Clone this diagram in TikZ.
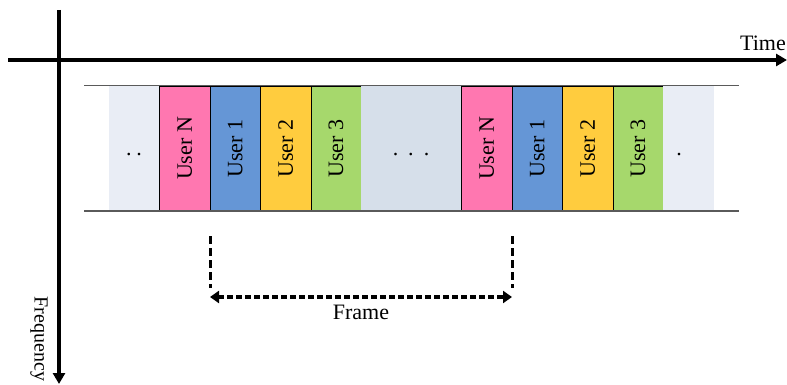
\documentclass[tikz,border=0pt]{standalone}
\usepackage{fontspec}
\setmainfont{Liberation Serif}
\usetikzlibrary{arrows.meta}
\definecolor{cpink}{RGB}{255,119,176}
\definecolor{cblue}{RGB}{101,150,214}
\definecolor{cyellow}{RGB}{255,204,62}
\definecolor{cgreen}{RGB}{166,216,108}
\definecolor{clight}{RGB}{233,237,245}
\definecolor{cmid}{RGB}{214,223,234}
\definecolor{crule}{RGB}{90,90,90}
\begin{document}
\begin{tikzpicture}[x=1pt,y=-1pt,
  every node/.style={font=\fontsize{22}{26}\selectfont, inner sep=0pt, outer sep=0pt},
  axis/.style={line width=3.5pt, -{Triangle[length=11pt,width=12pt]}},
  slot/.style={draw=black, line width=0.8pt, minimum height=125pt},
  emptyslot/.style={draw=none, minimum height=125pt},
  rule/.style={draw=crule, line width=1.5pt},
  guide/.style={line width=3pt, dash pattern=on 8pt off 4pt},
  framearrow/.style={line width=3.5pt, dash pattern=on 6pt off 3pt, {Triangle[length=9pt,width=12pt]}-{Triangle[length=9pt,width=12pt]}},
  dotsnode/.style={anchor=base}
]
\useasboundingbox (0,0) rectangle (787,385);

% axes
\coordinate (xa) at (8,60);
\coordinate (xb) at (787,60);
\coordinate (ya) at (59,10);
\coordinate (yb) at (59,384);
\draw[axis] (xa) -- (xb);
\draw[axis] (ya) -- (yb);
\node (time) at (763,43) {Time};
\node[rotate=-90, font=\fontsize{20}{24}\selectfont] (freq) at (39,339) {Frequency};

% slots
\node[emptyslot, fill=clight, minimum width=50.5pt] (s1) at (134.25,148.5) {};
\node[slot, fill=cpink, minimum width=50.5pt] (s2) at (184.75,148.5) {\rotatebox{90}{User N}};
\node[slot, fill=cblue, minimum width=50.5pt] (s3) at (235.25,148.5) {\rotatebox{90}{User 1}};
\node[slot, fill=cyellow, minimum width=50.5pt] (s4) at (285.75,148.5) {\rotatebox{90}{User 2}};
\node[slot, fill=cgreen, minimum width=50pt] (s5) at (336,148.5) {\rotatebox{90}{User 3}};
\node[emptyslot, fill=cmid, minimum width=100.5pt] (s6) at (411.25,148.5) {};
\node[slot, fill=cpink, minimum width=50.5pt] (s7) at (486.75,148.5) {\rotatebox{90}{User N}};
\node[slot, fill=cblue, minimum width=50.5pt] (s8) at (537.25,148.5) {\rotatebox{90}{User 1}};
\node[slot, fill=cyellow, minimum width=50.5pt] (s9) at (587.75,148.5) {\rotatebox{90}{User 2}};
\node[slot, fill=cgreen, minimum width=50pt] (s10) at (638,148.5) {\rotatebox{90}{User 3}};
\node[emptyslot, fill=clight, minimum width=51pt] (s11) at (688.5,148.5) {};

% dots
\node[dotsnode] (d1) at (134,155.5) {.\hspace{5pt}.};
\node[dotsnode] (d2) at (411,155.5) {.\hspace{10pt}.\hspace{10pt}.};
\node[dotsnode] (d3) at (679,155.5) {.};

% top and bottom rules
\coordinate (ta) at (84,85.5);
\coordinate (tb) at (739,85.5);
\coordinate (ba) at (84,211);
\coordinate (bb) at (739,211);
\draw[rule] (ta) -- (tb);
\draw[rule] (ba) -- (bb);

% frame marker
\coordinate (g1t) at (210,236);
\coordinate (g1b) at (210,288);
\coordinate (g2t) at (512,236);
\coordinate (g2b) at (512,288);
\draw[guide] (g1t) -- (g1b);
\draw[guide] (g2t) -- (g2b);
\coordinate (fa) at (210,297);
\coordinate (fb) at (512,297);
\draw[framearrow] (fa) -- (fb);
\node (frame) at (361,312) {Frame};
\end{tikzpicture}
\end{document}
